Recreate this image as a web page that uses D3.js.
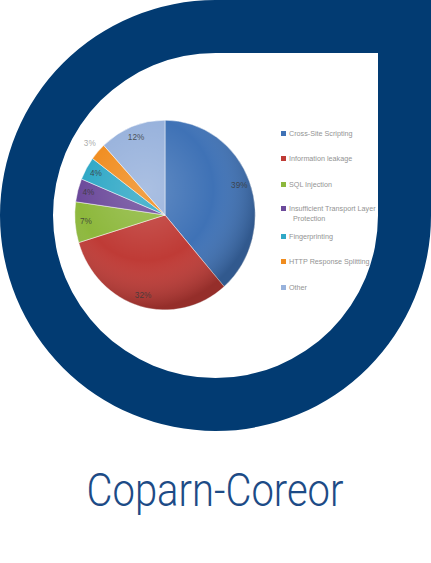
<!DOCTYPE html>
<html>
<head>
<meta charset="utf-8">
<script src="https://cdn.jsdelivr.net/npm/d3@7"></script>
<style>
  html, body { margin: 0; padding: 0; background: #fff; }
  svg { display: block; }
</style>
</head>
<body>
<svg id="chart" width="431" height="563"></svg>
<script>
// ---- data ----
const categories = ["Cross-Site Scripting", "Information leakage", "SQL Injection",
  "Insufficient Transport Layer Protection", "Fingerprinting", "HTTP Response Splitting", "Other"];
const values = [39, 32, 7, 4, 4, 3, 12];
const valueLabels = ["39%", "32%", "7%", "4%", "4%", "3%", "12%"];
const colors = ["#3f72b6", "#bf3b36", "#8db83c", "#6c4a9b", "#2fa8c6", "#f08c1e", "#98b2dc"];
const title = "Coparn-Coreor";

const svg = d3.select("#chart");
const defs = svg.append("defs");

// ---- frame ring (teardrop shape) ----
const cx = 215.5, cy = 215.5;
const R = 215.5, r = 162.5;
const ringPath = d3.path();
ringPath.moveTo(cx, cy - R);
ringPath.lineTo(431, cy - R);
ringPath.lineTo(431, cy);
ringPath.arc(cx, cy, R, 0, Math.PI * 1.5, false);
ringPath.closePath();
ringPath.moveTo(cx, cy - r);
ringPath.lineTo(cx + r, cy - r);
ringPath.lineTo(cx + r, cy);
ringPath.arc(cx, cy, r, 0, Math.PI * 1.5, false);
ringPath.closePath();
svg.append("path").attr("d", ringPath.toString())
  .attr("fill", "#023b72").attr("fill-rule", "evenodd");

// ---- pie ----
const pcx = 165, pcy = 215, pr = 93;
const g = svg.append("g").attr("transform", `translate(${pcx},${pcy}) scale(0.97,1.02)`);
const pie = d3.pie().sort(null).value(d => d)(values);
const arc = d3.arc().innerRadius(0).outerRadius(pr);

const shade = defs.append("radialGradient").attr("id", "shade")
  .attr("gradientUnits", "userSpaceOnUse").attr("cx", -20).attr("cy", -25).attr("r", pr * 1.25);
shade.append("stop").attr("offset", "0%").attr("stop-color", "#fff").attr("stop-opacity", 0.18);
shade.append("stop").attr("offset", "60%").attr("stop-color", "#fff").attr("stop-opacity", 0.0);
shade.append("stop").attr("offset", "100%").attr("stop-color", "#000").attr("stop-opacity", 0.22);

g.selectAll("path.slice").data(pie).join("path")
  .attr("class", "slice")
  .attr("d", arc)
  .attr("fill", (d, i) => colors[i])
  .attr("stroke", "#ffffff").attr("stroke-opacity", 0.6).attr("stroke-width", 0.8);
g.append("circle").attr("r", pr).attr("fill", "url(#shade)").attr("pointer-events", "none");

// labels
const labelArc = d3.arc().innerRadius(pr * 0.88).outerRadius(pr * 0.88);
const outerArc = d3.arc().innerRadius(pr * 1.12).outerRadius(pr * 1.12);
g.selectAll("text.lbl").data(pie).join("text")
  .attr("class", "lbl")
  .attr("transform", (d, i) => {
    const c = (i === 5 ? outerArc : labelArc).centroid(d);
    return `translate(${c[0]},${c[1]})`;
  })
  .attr("text-anchor", "middle").attr("dominant-baseline", "middle")
  .attr("font-family", "Liberation Sans, Arial, sans-serif")
  .attr("font-size", 8.5)
  .attr("fill", (d, i) => i === 5 ? "#9a9a9a" : "#3a3a3a")
  .attr("fill-opacity", 0.85)
  .text((d, i) => valueLabels[i]);

// ---- legend ----
const legendY = [134, 159, 185, 209, 237, 262, 288];
const lg = svg.append("g");
categories.forEach((c, i) => {
  const row = lg.append("g").attr("transform", `translate(281,${legendY[i]})`);
  row.append("rect").attr("x", 0).attr("y", -3).attr("width", 5).attr("height", 5)
    .attr("fill", colors[i]);
  const t = row.append("text").attr("x", 8).attr("y", 2)
    .attr("font-family", "Liberation Sans, Arial, sans-serif")
    .attr("font-size", 7.2).attr("fill", "#939393");
  if (i === 3) {
    t.append("tspan").attr("x", 8).text("Insufficient Transport Layer");
    t.append("tspan").attr("x", 12).attr("dy", 10).text("Protection");
  } else {
    t.text(c);
  }
});

// ---- title ----
svg.append("text")
  .attr("x", 215).attr("y", 506)
  .attr("text-anchor", "middle")
  .attr("font-family", "Roboto, 'Noto Sans', sans-serif")
  .attr("font-weight", 300)
  .attr("font-size", 46)
  .attr("fill", "#1d4b86")
  .attr("textLength", 257).attr("lengthAdjust", "spacingAndGlyphs")
  .text(title);
</script>
</body>
</html>
